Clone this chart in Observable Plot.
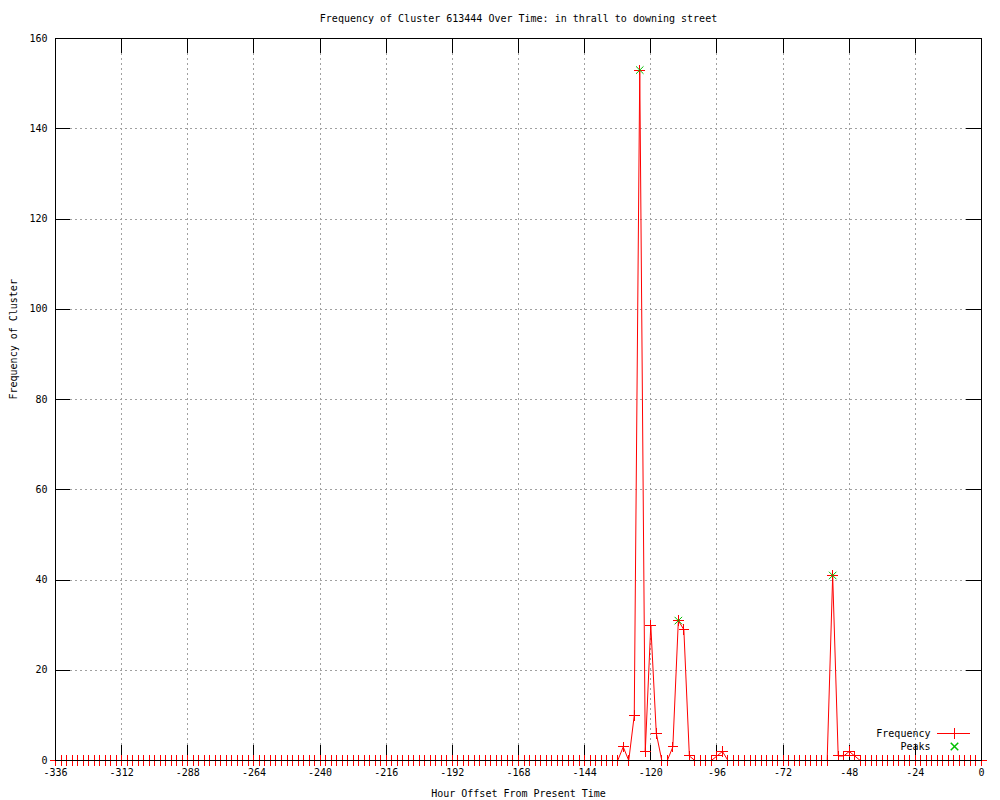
<!DOCTYPE html>
<html>
<head>
<meta charset="utf-8">
<script src="https://cdn.jsdelivr.net/npm/d3@7"></script>
<script src="https://cdn.jsdelivr.net/npm/@observablehq/plot@0.6"></script>
<style>
  body { margin: 0; background: #ffffff; }
  #chart svg { display: block; }
</style>
</head>
<body>
<div id="chart"></div>
<script>
// ---- Text ----
const title = "Frequency of Cluster 613444 Over Time: in thrall to downing street";
const xLabel = "Hour Offset From Present Time";
const yLabel = "Frequency of Cluster";
const legendLabels = ["Frequency", "Peaks"];

// ---- Data (one value every 2 hours, from -336 to 0) ----
const startHour = -336;
const stepHours = 2;
const frequency = [
  0, 0, 0, 0, 0, 0, 0, 0, 0, 0, 0, 0,     // -336 .. -314
  0, 0, 0, 0, 0, 0, 0, 0, 0, 0, 0, 0,     // -312 .. -290
  0, 0, 0, 0, 0, 0, 0, 0, 0, 0, 0, 0,     // -288 .. -266
  0, 0, 0, 0, 0, 0, 0, 0, 0, 0, 0, 0,     // -264 .. -242
  0, 0, 0, 0, 0, 0, 0, 0, 0, 0, 0, 0,     // -240 .. -218
  0, 0, 0, 0, 0, 0, 0, 0, 0, 0, 0, 0,     // -216 .. -194
  0, 0, 0, 0, 0, 0, 0, 0, 0, 0, 0, 0,     // -192 .. -170
  0, 0, 0, 0, 0, 0, 0, 0, 0, 0, 0, 0,     // -168 .. -146
  0, 0, 0, 0, 0, 0, 0, 3, 0, 10, 153, 2,  // -144 .. -122
  30, 6, 0, 0, 3, 31, 29, 1, 0, 0, 0, 0,  // -120 .. -98
  1, 2, 0, 0, 0, 0, 0, 0, 0, 0, 0, 0,     // -96 .. -74
  0, 0, 0, 0, 0, 0, 0, 0, 0, 41, 1, 1,    // -72 .. -50
  2, 1, 0, 0, 0, 0, 0, 0, 0, 0, 0, 0,     // -48 .. -26
  0, 0, 0, 0, 0, 0, 0, 0, 0, 0, 0, 0,     // -24 .. -2
  0                                       // 0
];
const peakHours = [-124, -110, -54];
const peakValues = [153, 31, 41];

// ---- Ticks ----
const xTicks = [-336, -312, -288, -264, -240, -216, -192, -168, -144, -120, -96, -72, -48, -24, 0];
const yTicks = [0, 20, 40, 60, 80, 100, 120, 140, 160];

// ---- Tables built from the arrays ----
const series = frequency.map((v, i) => ({hour: startHour + i * stepHours, value: v}));
const peaks = peakHours.map((h, i) => ({hour: h, value: peakValues[i]}));

// ---- Layout ----
const W = 1000, H = 800;
const mL = 55, mR = 19, mT = 38, mB = 40;
const frameW = W - mL - mR, frameH = H - mT - mB;
const tickLen = 15;
const gridStyle = {stroke: "#a0a0a0", strokeDasharray: "2,3", strokeWidth: 1, shapeRendering: "crispEdges"};
const red = "#ff0000", green = "#00c000";
const crisp = {shapeRendering: "crispEdges"};

const chart = Plot.plot({
  width: W,
  height: H,
  marginLeft: mL, marginRight: mR, marginTop: mT, marginBottom: mB,
  style: {fontFamily: "DejaVu Sans Mono", fontSize: "10px", background: "#ffffff", color: "#000000"},
  x: {domain: [-336, 0]},
  y: {domain: [0, 160]},
  marks: [
    // grid
    Plot.ruleX(xTicks.slice(1, -1), gridStyle),
    Plot.ruleY(yTicks.slice(1, -1), gridStyle),
    // inward ticks (mirrored)
    Plot.ruleX(xTicks, {stroke: "#000", insetTop: frameH - tickLen, ...crisp}),
    Plot.ruleX(xTicks, {stroke: "#000", insetBottom: frameH - tickLen, ...crisp}),
    Plot.ruleY(yTicks, {stroke: "#000", insetRight: frameW - tickLen, ...crisp}),
    Plot.ruleY(yTicks, {stroke: "#000", insetLeft: frameW - tickLen, ...crisp}),
    // data
    Plot.line(series, {x: "hour", y: "value", stroke: red, strokeWidth: 1}),
    Plot.dot(series, {x: "hour", y: "value", symbol: "plus", r: 3.5, stroke: red, strokeWidth: 1, ...crisp}),
    Plot.dot(peaks, {x: "hour", y: "value", symbol: "times", r: 3.5, stroke: green, strokeWidth: 1}),
    // border
    Plot.frame({stroke: "#000", strokeWidth: 1, ...crisp}),
    // axes
    Plot.axisX({ticks: xTicks, tickSize: 0, tickPadding: 8, label: null, tickFormat: d => String(d)}),
    Plot.axisY({ticks: yTicks, tickSize: 0, tickPadding: 8, label: null, tickFormat: d => String(d)}),
    // titles
    Plot.text([title], {frameAnchor: "top", dy: -20, lineAnchor: "middle", fill: "#000"}),
    Plot.text([xLabel], {frameAnchor: "bottom", dy: 33, lineAnchor: "middle", fill: "#000"}),
    Plot.text([yLabel], {frameAnchor: "left", dx: -42, rotate: -90, lineAnchor: "middle", fill: "#000"}),
    // legend
    Plot.text([legendLabels[0]], {frameAnchor: "bottom-right", dx: -51, dy: -27, textAnchor: "end", lineAnchor: "middle", fill: "#000"}),
    Plot.text([legendLabels[1]], {frameAnchor: "bottom-right", dx: -51, dy: -14, textAnchor: "end", lineAnchor: "middle", fill: "#000"}),
    Plot.dot([0], {frameAnchor: "bottom-right", dx: -27, dy: -27, symbol: "plus", r: 3.5, stroke: red, ...crisp}),
    Plot.dot([0], {frameAnchor: "bottom-right", dx: -27, dy: -14, symbol: "times", r: 3.5, stroke: green})
  ]
});

// legend line sample
d3.select(chart).append("line")
  .attr("x1", W - mR - 44).attr("x2", W - mR - 11)
  .attr("y1", H - mB - 27).attr("y2", H - mB - 27)
  .attr("stroke", red).attr("stroke-width", 1)
  .attr("shape-rendering", "crispEdges");

document.getElementById("chart").appendChild(chart);
</script>
</body>
</html>
